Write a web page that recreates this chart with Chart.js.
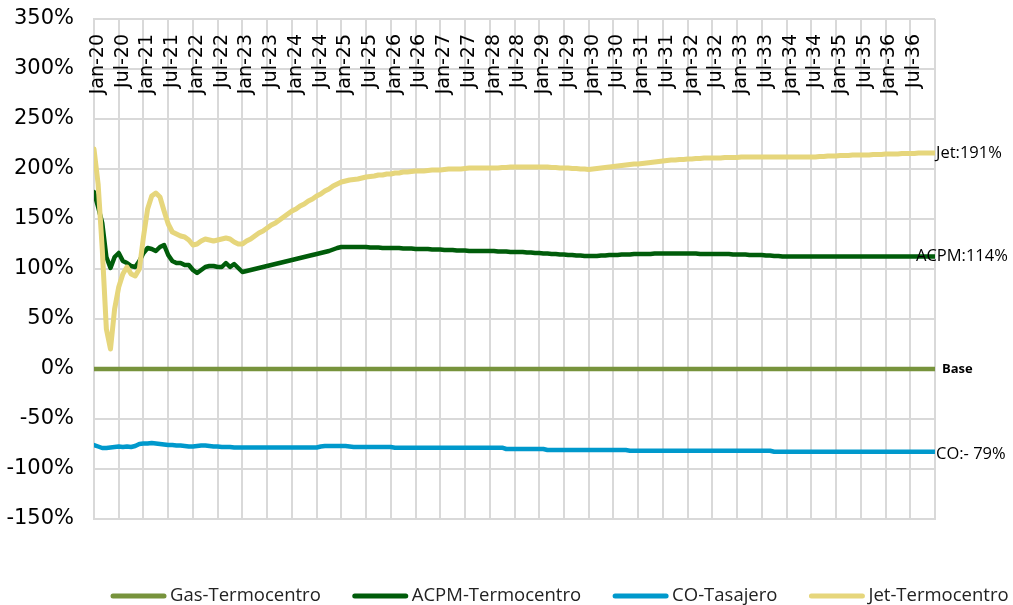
<!DOCTYPE html>
<html>
<head>
<meta charset="utf-8">
<script src="https://cdn.jsdelivr.net/npm/chart.js@4/dist/chart.umd.min.js"></script>
<style>
html,body{margin:0;padding:0;background:#fff;overflow:hidden}
#wrap{width:1013px;height:605px;position:relative}
</style>
</head>
<body>
<div id="wrap"><canvas id="c" width="1013" height="605"></canvas></div>
<script>
// ---- data (monthly, Jan-20 .. Jan-37) ----
const seriesNames = ['Gas-Termocentro', 'ACPM-Termocentro', 'CO-Tasajero', 'Jet-Termocentro'];
const endLabels = ['Base', 'ACPM:114%', 'CO:- 79%', 'Jet:191%'];
const tickLabels = ['Jan-20','Jul-20','Jan-21','Jul-21','Jan-22','Jul-22','Jan-23','Jul-23','Jan-24','Jul-24',
  'Jan-25','Jul-25','Jan-26','Jul-26','Jan-27','Jul-27','Jan-28','Jul-28','Jan-29','Jul-29',
  'Jan-30','Jul-30','Jan-31','Jul-31','Jan-32','Jul-32','Jan-33','Jul-33','Jan-34','Jul-34',
  'Jan-35','Jul-35','Jan-36','Jul-36'];
const yTicks = { min: -150, max: 350, step: 50 };

const gas = [
  0,0,0,0,0,0,0,0,0,0,0,0,
  0,0,0,0,0,0,0,0,0,0,0,0,
  0,0,0,0,0,0,0,0,0,0,0,0,
  0,0,0,0,0,0,0,0,0,0,0,0,
  0,0,0,0,0,0,0,0,0,0,0,0,
  0,0,0,0,0,0,0,0,0,0,0,0,
  0,0,0,0,0,0,0,0,0,0,0,0,
  0,0,0,0,0,0,0,0,0,0,0,0,
  0,0,0,0,0,0,0,0,0,0,0,0,
  0,0,0,0,0,0,0,0,0,0,0,0,
  0,0,0,0,0,0,0,0,0,0,0,0,
  0,0,0,0,0,0,0,0,0,0,0,0,
  0,0,0,0,0,0,0,0,0,0,0,0,
  0,0,0,0,0,0,0,0,0,0,0,0,
  0,0,0,0,0,0,0,0,0,0,0,0,
  0,0,0,0,0,0,0,0,0,0,0,0,
  0,0,0,0,0,0,0,0,0,0,0,0,
  0
];
const acpm = [
  177,162,146,112,101,112,116,108,106,103,102,108,
  116,121,120,118,122,124,114,108,106,106,104,104,
  99,96,99,102,103,103,102,102,106,102,105,101,
  97,98,99,100,101,102,103,104,105,106,107,108,
  109,110,111,112,113,114,115,116,117,118,119.5,121,
  122,122,122,122,122,122,122,121.5,121.5,121.5,121,121,
  121,121,121,120.5,120.5,120.5,120,120,120,120,119.5,119.5,
  119.5,119,119,119,118.5,118.5,118.5,118,118,118,118,118,
  118,118,117.5,117.5,117.5,117,117,117,117,116.5,116.5,116,
  116,115.5,115.5,115,115,114.5,114.5,114,114,113.5,113.5,113,
  113,113,113,113.5,113.5,114,114,114,114.5,114.5,114.5,115,
  115,115,115,115,115.5,115.5,115.5,115.5,115.5,115.5,115.5,115.5,
  115.5,115.5,115.5,115,115,115,115,115,115,115,115,114.5,
  114.5,114.5,114.5,114,114,114,114,113.5,113.5,113,113,112.5,
  112.5,112.5,112.5,112.5,112.5,112.5,112.5,112.5,112.5,112.5,112.5,112.5,
  112.5,112.5,112.5,112.5,112.5,112.5,112.5,112.5,112.5,112.5,112.5,112.5,
  112.5,112.5,112.5,112.5,112.5,112.5,112.5,112.5,112.5,112.5,112.5,112.5,
  112.5
];
const co = [
  -76,-77.5,-79,-79,-78.5,-78,-77.5,-78,-77.5,-78,-77,-75,
  -74.5,-74.5,-74,-74.5,-75,-75.5,-76,-76,-76.5,-76.5,-77,-77.5,
  -77.5,-77,-76.5,-76.5,-77,-77.5,-77.5,-78,-78,-78,-78.5,-78.5,
  -78.5,-78.5,-78.5,-78.5,-78.5,-78.5,-78.5,-78.5,-78.5,-78.5,-78.5,-78.5,
  -78.5,-78.5,-78.5,-78.5,-78.5,-78.5,-78.5,-77.5,-77,-77,-77,-77,
  -77,-77,-77.5,-78,-78,-78,-78,-78,-78,-78,-78,-78,
  -78,-78.7,-78.7,-78.7,-78.7,-78.7,-78.7,-78.7,-78.7,-78.7,-78.7,-78.7,
  -78.7,-78.7,-78.7,-78.7,-78.7,-78.7,-78.7,-78.7,-78.7,-78.7,-78.7,-78.7,
  -78.7,-78.7,-78.7,-78.7,-80,-80,-80,-80,-80,-80,-80,-80,
  -80,-80,-81,-81,-81,-81,-81,-81,-81,-81,-81,-81,
  -81,-81,-81,-81,-81,-81,-81,-81,-81,-81,-81.7,-81.7,
  -81.7,-81.7,-81.7,-81.7,-81.7,-81.7,-81.7,-81.7,-81.7,-81.7,-81.7,-81.7,
  -81.7,-81.7,-81.7,-81.7,-81.7,-81.7,-81.7,-81.7,-81.7,-81.7,-81.7,-81.7,
  -81.7,-81.7,-81.7,-81.7,-81.7,-81.7,-81.7,-81.7,-81.7,-82.7,-82.7,-82.7,
  -82.7,-82.7,-82.7,-82.7,-82.7,-82.7,-82.7,-82.7,-82.7,-82.7,-82.7,-82.7,
  -82.7,-82.7,-82.7,-82.7,-82.7,-82.7,-82.7,-82.7,-82.7,-82.7,-82.7,-82.7,
  -82.7,-82.7,-82.7,-82.7,-82.7,-82.7,-82.7,-82.7,-82.7,-82.7,-82.7,-82.7,
  -82.7
];
const jet = [
  220,185,120,40,20,60,82,95,102,95,93,100,
  132,160,173,176,172,158,145,137,135,133,132,129,
  124,125,128,130,129,128,129,130,131,130,127,125,
  125,128,130,133,136,138,141,144,146,149,152,155,
  158,160,163,165,168,170,173,175,178,180,183,185,
  187,188,189,189.5,190,191,192,192.5,193,194,194,195,
  195,196,196,197,197,197.5,198,198,198,198.5,199,199,
  199,199.5,200,200,200,200,200.5,201,201,201,201,201,
  201,201,201,201.5,201.5,202,202,202,202,202,202,202,
  202,202,202,201.5,201.5,201,201,201,200.5,200.5,200,200,
  199.5,200,200.5,201,201.5,202,202.5,203,203.5,204,204.5,205,
  205,205.5,206,206.5,207,207.5,208,208.5,209,209,209.5,209.5,
  210,210,210.5,210.5,211,211,211,211,211,211.5,211.5,211.5,
  211.5,212,212,212,212,212,212,212,212,212,212,212,
  212,212,212,212,212,212,212,212,212.5,212.5,213,213,
  213,213.5,213.5,213.5,214,214,214,214,214,214.5,214.5,214.5,
  215,215,215,215,215.5,215.5,215.5,215.5,216,216,216,216,
  216
];
const seriesValues = [gas, acpm, co, jet];
const seriesColors = ['#77933C', '#005C0A', '#0099CC', '#E6D67C'];

// ---- helpers ----
const toPoints = arr => arr.map((v, i) => ({ x: i, y: v }));
const GRID = '#d9d9d9';

const datasets = seriesNames.map((name, k) => ({
  label: name,
  data: toPoints(seriesValues[k]),
  borderColor: seriesColors[k],
  backgroundColor: seriesColors[k],
  borderWidth: k === 3 ? 5 : 4.5,
  pointRadius: 0,
  tension: 0,
  borderJoinStyle: 'round',
  borderCapStyle: 'round',
  order: 4 - k,
  endLabel: endLabels[k]
}));

const xLabelPlugin = {
  id: 'xLabels',
  beforeDatasetsDraw(chart) {
    const ctx = chart.ctx, xs = chart.scales.x;
    ctx.save();
    ctx.font = '19px "DejaVu Sans"';
    ctx.fillStyle = '#000';
    ctx.textAlign = 'right';
    ctx.textBaseline = 'middle';
    tickLabels.forEach((t, k) => {
      const px = xs.getPixelForValue(k * 6);
      ctx.save();
      ctx.translate(px + 4, chart.chartArea.top + 15);
      ctx.rotate(-Math.PI / 2);
      ctx.fillText(t, 0, 0);
      ctx.restore();
    });
    ctx.restore();
  }
};

const endLabelPlugin = {
  id: 'endLabels',
  afterDatasetsDraw(chart) {
    const ctx = chart.ctx, xs = chart.scales.x, ys = chart.scales.y;
    ctx.save();
    ctx.textAlign = 'left';
    ctx.textBaseline = 'middle';
    ctx.fillStyle = '#000';
    chart.data.datasets.forEach((ds, k) => {
      const last = ds.data[ds.data.length - 1];
      const px = xs.getPixelForValue(last.x);
      const py = ys.getPixelForValue(last.y);
      if (k === 0) {
        ctx.font = 'bold 13px "Open Sans"';
        ctx.fillText(ds.endLabel, px + 7, py);
      } else if (k === 1) {
        ctx.font = '16.5px "Open Sans"';
        ctx.fillText(ds.endLabel, px - 19, py);
      } else if (k === 2) {
        ctx.font = '16.5px "Open Sans"';
        ctx.fillText(ds.endLabel, px + 1, py + 3);
      } else {
        ctx.font = '16.5px "Open Sans"';
        ctx.fillText(ds.endLabel, px + 1, py);
      }
    });
    ctx.restore();
  }
};

const legendPlugin = {
  id: 'lineLegend',
  afterDraw(chart) {
    const ctx = chart.ctx;
    ctx.save();
    ctx.font = '18.5px "Open Sans"';
    ctx.textAlign = 'left';
    ctx.textBaseline = 'middle';
    let x = 111;
    const y = 596;
    chart.data.datasets.forEach(ds => {
      ctx.strokeStyle = ds.borderColor;
      ctx.lineWidth = 5;
      ctx.lineCap = 'round';
      ctx.beginPath();
      ctx.moveTo(x + 2, y);
      ctx.lineTo(x + 53, y);
      ctx.stroke();
      ctx.fillStyle = '#222';
      ctx.fillText(ds.label, x + 59, y);
      x += 59 + ctx.measureText(ds.label).width + 32;
    });
    ctx.restore();
  }
};

new Chart(document.getElementById('c'), {
  type: 'line',
  data: { datasets },
  options: {
    responsive: false,
    animation: false,
    devicePixelRatio: 1,
    layout: { padding: { left: 0, right: 78, top: 19, bottom: 0 } },
    plugins: { legend: { display: false }, tooltip: { enabled: false } },
    scales: {
      x: {
        type: 'linear',
        min: 0,
        max: tickLabels.length * 6,
        ticks: { display: false, stepSize: 6, maxTicksLimit: 1000 },
        grid: { color: GRID, lineWidth: 2, drawTicks: false },
        border: { display: true, color: GRID, width: 2 },
        afterFit(s) { s.height = 86; s.paddingLeft = 0; s.paddingRight = 0; }
      },
      y: {
        min: yTicks.min,
        max: yTicks.max,
        ticks: {
          stepSize: yTicks.step,
          callback: v => v + '%',
          font: { family: 'DejaVu Sans', size: 21 },
          color: '#000',
          padding: 20
        },
        grid: { color: GRID, lineWidth: 2, drawTicks: false },
        border: { display: true, color: GRID, width: 2 },
        afterFit(s) { s.width = 94; s.paddingTop = 0; s.paddingBottom = 0; }
      }
    }
  },
  plugins: [xLabelPlugin, endLabelPlugin, legendPlugin]
});
</script>
</body>
</html>
